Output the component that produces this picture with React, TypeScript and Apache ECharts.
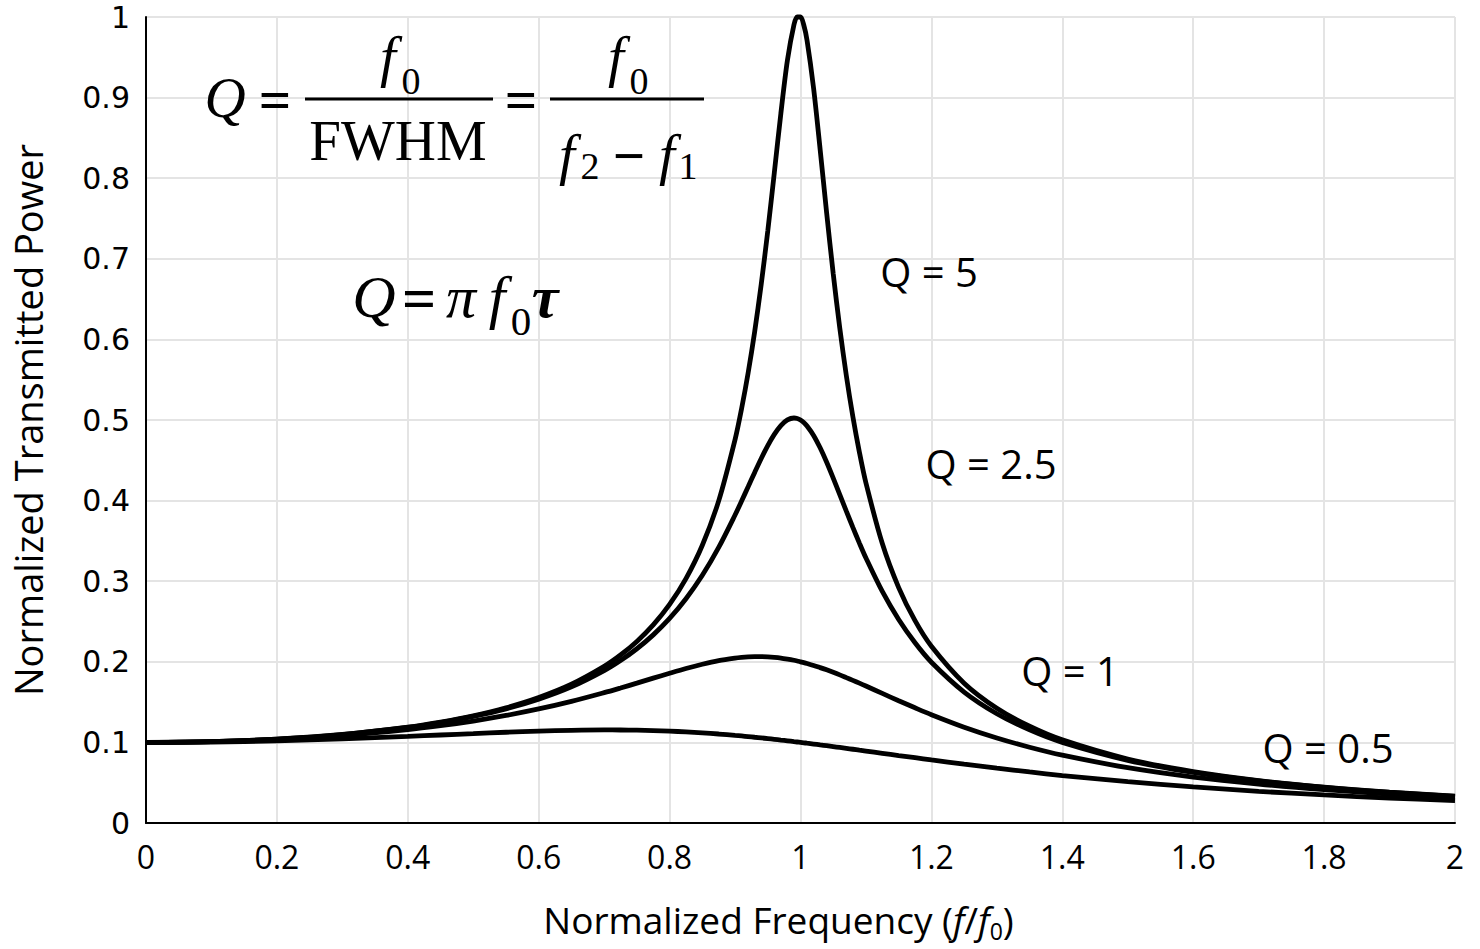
import React, { useEffect, useRef } from "react";
import * as echarts from "echarts";

// Normalized frequency f/f0 (x) and normalized transmitted power for each Q
const xValues = [0, 0.1, 0.2, 0.3, 0.4, 0.45, 0.5, 0.55, 0.6, 0.65, 0.7, 0.725, 0.75, 0.775, 0.8, 0.825, 0.85, 0.875, 0.9, 0.91, 0.92, 0.93, 0.94, 0.95, 0.96, 0.97, 0.98, 0.99, 0.995, 1.0, 1.005, 1.01, 1.02, 1.03, 1.04, 1.05, 1.06, 1.07, 1.08, 1.09, 1.1, 1.125, 1.15, 1.175, 1.2, 1.25, 1.3, 1.35, 1.4, 1.5, 1.6, 1.7, 1.8, 1.9, 2.0];

const powerQ5 = [0.1, 0.101, 0.1041, 0.1098, 0.1189, 0.1252, 0.133, 0.1429, 0.1556, 0.1721, 0.1943, 0.2084, 0.2253, 0.2458, 0.2712, 0.3032, 0.3446, 0.3997, 0.4757, 0.5141, 0.5585, 0.6097, 0.6684, 0.7346, 0.8068, 0.8804, 0.9461, 0.9903, 1.0, 1.0, 0.9901, 0.9711, 0.9115, 0.8357, 0.7565, 0.6815, 0.6141, 0.5552, 0.5041, 0.46, 0.4218, 0.3467, 0.2921, 0.251, 0.2193, 0.1735, 0.1424, 0.12, 0.1031, 0.0794, 0.0638, 0.0527, 0.0445, 0.0382, 0.0333];

const powerQ25 = [0.1, 0.101, 0.1041, 0.1097, 0.1185, 0.1246, 0.1322, 0.1416, 0.1536, 0.1689, 0.1891, 0.2016, 0.2162, 0.2334, 0.2538, 0.2782, 0.3073, 0.3419, 0.3821, 0.3995, 0.4172, 0.435, 0.4523, 0.4683, 0.4822, 0.4931, 0.5001, 0.5025, 0.5019, 0.5, 0.4969, 0.4926, 0.4809, 0.4655, 0.4476, 0.4279, 0.4075, 0.3869, 0.3668, 0.3473, 0.3288, 0.2873, 0.2525, 0.2236, 0.1995, 0.1625, 0.1356, 0.1155, 0.1, 0.0778, 0.0628, 0.0521, 0.0441, 0.0379, 0.033];

const powerQ1 = [0.1, 0.1009, 0.1036, 0.1084, 0.1158, 0.1207, 0.1265, 0.1334, 0.1415, 0.1509, 0.1617, 0.1675, 0.1735, 0.1797, 0.1858, 0.1917, 0.197, 0.2015, 0.2047, 0.2056, 0.2062, 0.2065, 0.2065, 0.2062, 0.2056, 0.2047, 0.2034, 0.2019, 0.201, 0.2, 0.199, 0.1979, 0.1955, 0.1928, 0.19, 0.187, 0.1838, 0.1804, 0.177, 0.1735, 0.1699, 0.1608, 0.1517, 0.1429, 0.1344, 0.1189, 0.1055, 0.094, 0.0842, 0.0686, 0.057, 0.0483, 0.0414, 0.036, 0.0316];

const powerQ05 = [0.1, 0.1005, 0.102, 0.1044, 0.1075, 0.1092, 0.1109, 0.1126, 0.114, 0.115, 0.1155, 0.1154, 0.1152, 0.1147, 0.114, 0.113, 0.1118, 0.1104, 0.1087, 0.108, 0.1072, 0.1064, 0.1056, 0.1047, 0.1038, 0.1029, 0.102, 0.101, 0.1005, 0.1, 0.0995, 0.099, 0.098, 0.0969, 0.0959, 0.0948, 0.0937, 0.0926, 0.0915, 0.0904, 0.0893, 0.0865, 0.0837, 0.081, 0.0782, 0.073, 0.068, 0.0633, 0.0589, 0.0512, 0.0448, 0.0393, 0.0348, 0.031, 0.0277];

const seriesNames = ["Q = 5", "Q = 2.5", "Q = 1", "Q = 0.5"];

const SANS = "'Open Sans', 'Liberation Sans', sans-serif";
const SERIF = "'Liberation Serif', 'DejaVu Serif', serif";

function txt(text: string, x: number, y: number, fontSize: number, opts: any = {}) {
  return {
    type: "text",
    x,
    y,
    z: 100,
    style: {
      text,
      fill: "#000",
      fontFamily: opts.fontFamily || SERIF,
      fontSize,
      fontStyle: opts.fontStyle || "normal",
      fontWeight: opts.fontWeight || "normal",
      align: "center",
      verticalAlign: "middle",
      textAlign: "center",
      textVerticalAlign: "middle",
    },
  };
}

function bar(x1: number, x2: number, y: number) {
  return {
    type: "line",
    z: 100,
    shape: { x1, y1: y, x2, y2: y },
    style: { stroke: "#000", lineWidth: 3 },
  };
}

export default function App() {
  const ref = useRef<HTMLDivElement>(null);

  useEffect(() => {
    if (!ref.current) return;
    const chart = echarts.init(ref.current, null, { renderer: "svg" });
    const mk = (ys: number[]) => xValues.map((x, i) => [x, ys[i]]);
    const lineSeries = (name: string, ys: number[]) => ({
      type: "line",
      name,
      data: mk(ys),
      smooth: 0.3,
      symbol: "none",
      showSymbol: false,
      clip: false,
      lineStyle: { color: "#000", width: 4.8 },
      z: 3,
    });

    const it = { fontStyle: "italic" };
    const bold = { fontWeight: "bold" };

    chart.setOption({
      animation: false,
      backgroundColor: "#fff",
      grid: {
        left: 146,
        right: 25,
        top: 17,
        bottom: 126,
        containLabel: false,
        outerBoundsMode: "none",
      },
      xAxis: {
        type: "value",
        min: 0,
        max: 2,
        interval: 0.2,
        axisLine: { show: true, onZero: false, lineStyle: { color: "#000", width: 2 } },
        axisTick: { show: false },
        splitLine: { show: true, lineStyle: { color: "#e4e4e4", width: 2 } },
        axisLabel: {
          color: "#000",
          fontFamily: SANS,
          fontSize: 32,
          margin: 17,
          formatter: (v: number) => String(Math.round(v * 10) / 10),
        },
        name: "Normalized Frequency ({i|f}/{i|f}{s|0})",
        nameLocation: "middle",
        nameGap: 78,
        nameTextStyle: {
          color: "#000",
          fontFamily: SANS,
          fontSize: 37,
          padding: [0, 44, 0, 0],
          rich: {
            i: { fontFamily: SANS, fontSize: 37, fontStyle: "italic", color: "#000" },
            s: { fontFamily: SANS, fontSize: 23, color: "#000", padding: [11, 0, -11, 0] },
          },
        },
      },
      yAxis: {
        type: "value",
        min: 0,
        max: 1,
        interval: 0.1,
        axisLine: { show: true, lineStyle: { color: "#000", width: 2 } },
        axisTick: { show: false },
        splitLine: { show: true, lineStyle: { color: "#e4e4e4", width: 2 } },
        axisLabel: {
          color: "#000",
          fontFamily: "'DejaVu Sans', sans-serif",
          fontSize: 30,
          margin: 16,
          formatter: (v: number) => String(Math.round(v * 10) / 10),
        },
        name: "Normalized Transmitted Power",
        nameLocation: "middle",
        nameGap: 99,
        nameTextStyle: { color: "#000", fontFamily: SANS, fontSize: 38 },
      },
      series: [
        lineSeries(seriesNames[0], powerQ5),
        lineSeries(seriesNames[1], powerQ25),
        lineSeries(seriesNames[2], powerQ1),
        lineSeries(seriesNames[3], powerQ05),
      ],
      graphic: [
        // Q labels
        txt(seriesNames[0], 929, 271, 40, { fontFamily: SANS }),
        txt(seriesNames[1], 991, 463, 40, { fontFamily: SANS }),
        txt(seriesNames[2], 1070, 670, 40, { fontFamily: SANS }),
        txt(seriesNames[3], 1328, 747, 40, { fontFamily: SANS }),
        // Equation 1: Q = f0/FWHM = f0/(f2 - f1)
        txt("Q", 225, 97, 57, it),
        txt("=", 275, 99, 57, bold),
        bar(305, 493, 99),
        txt("f", 388, 56, 57, it),
        txt("0", 411, 81, 38),
        txt("FWHM", 398, 140, 57),
        txt("=", 521, 99, 57, bold),
        bar(550, 704, 99),
        txt("f", 616, 56, 57, it),
        txt("0", 639, 81, 38),
        txt("f", 567, 154, 57, it),
        txt("2", 590, 166, 38),
        txt("\u2212", 629, 155, 57, bold),
        txt("f", 667, 154, 57, it),
        txt("1", 688, 166, 38),
        // Equation 2: Q = pi f0 tau
        txt("Q", 374, 297, 60, it),
        txt("=", 419, 298, 60, bold),
        txt("\u03c0", 461, 297, 60, it),
        txt("f", 497, 297, 60, it),
        txt("0", 521, 321, 41),
        txt("\u03c4", 545, 297, 60, { fontStyle: "italic", fontWeight: "bold" }),
      ],
    });

    return () => chart.dispose();
  }, []);

  return (
    <div
      ref={ref}
      style={{ position: "fixed", left: 0, top: 0, width: 1480, height: 949, background: "#fff" }}
    />
  );
}
